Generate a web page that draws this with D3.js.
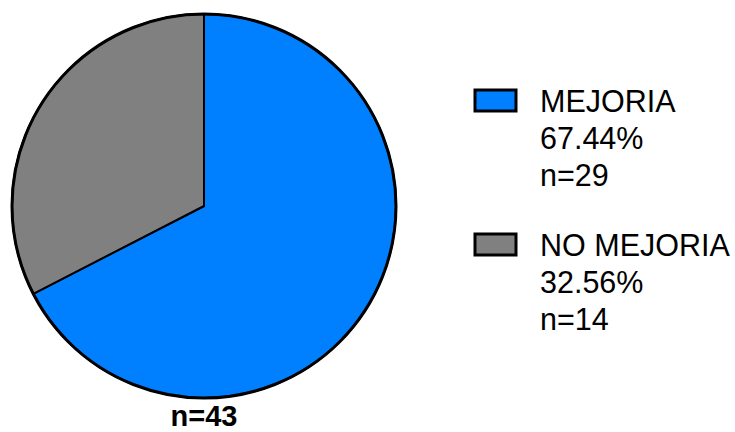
<!DOCTYPE html>
<html>
<head>
<meta charset="utf-8">
<script src="https://cdn.jsdelivr.net/npm/d3@7"></script>
<style>
  html, body { margin: 0; padding: 0; background: #fff; }
  svg { display: block; }
  text { font-family: "Liberation Sans", Arial, sans-serif; }
</style>
</head>
<body>
<svg id="chart" width="735" height="432"></svg>
<script>
// Outcome groups and counts
const categories = ["MEJORIA", "NO MEJORIA"];
const counts = [29, 14];
const percentLabels = ["67.44%", "32.56%"];
const colors = ["#0080ff", "#808080"];
const totalLabel = "n=43";

const svg = d3.select("#chart");
const cx = 204, cy = 206, r = 192;

const data = categories.map((c, i) => ({ name: c, value: counts[i], pct: percentLabels[i], color: colors[i] }));

const pie = d3.pie().value(d => d.value).sort(null);
const arc = d3.arc().innerRadius(0).outerRadius(r);

const g = svg.append("g").attr("transform", `translate(${cx},${cy})`);

g.selectAll("path.slice")
  .data(pie(data))
  .join("path")
  .attr("class", "slice")
  .attr("d", arc)
  .attr("fill", d => d.data.color)
  .attr("stroke", "#000")
  .attr("stroke-width", 2)
  .attr("stroke-linejoin", "round");

// Heavier outer rim
g.append("circle")
  .attr("r", r)
  .attr("fill", "none")
  .attr("stroke", "#000")
  .attr("stroke-width", 3);

// Total sample size under the pie
svg.append("text")
  .attr("x", cx)
  .attr("y", 426)
  .attr("text-anchor", "middle")
  .attr("font-size", 29)
  .attr("font-weight", "bold")
  .attr("fill", "#000")
  .text(totalLabel);

// Legend
const legend = svg.append("g");
const groupY = [112, 256];
const lineGap = 37;

data.forEach((d, i) => {
  const base = groupY[i];
  legend.append("rect")
    .attr("x", 475)
    .attr("y", base - 22)
    .attr("width", 41)
    .attr("height", 21)
    .attr("fill", d.color)
    .attr("stroke", "#000")
    .attr("stroke-width", 3);

  const lines = [d.name, d.pct, "n=" + d.value];
  lines.forEach((t, j) => {
    legend.append("text")
      .attr("x", 540)
      .attr("y", base + j * lineGap)
      .attr("font-size", 30.5)
      .attr("fill", "#000")
      .text(t);
  });
});
</script>
</body>
</html>
